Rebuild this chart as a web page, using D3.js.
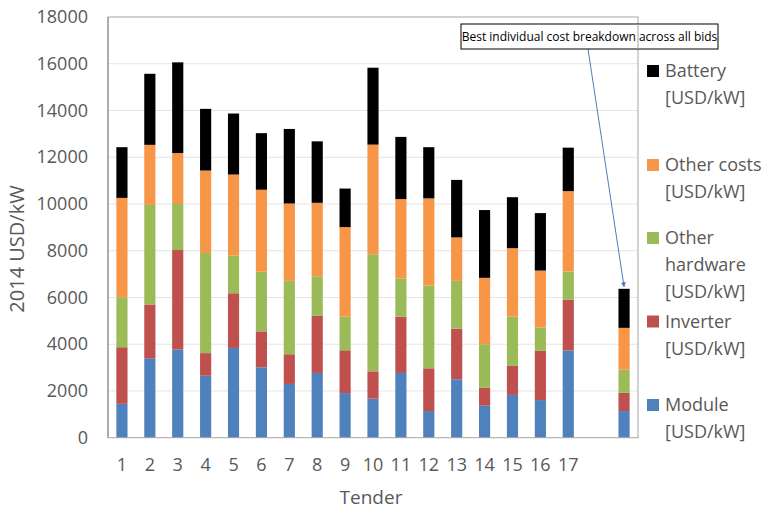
<!DOCTYPE html>
<html><head><meta charset="utf-8">
<script src="https://cdn.jsdelivr.net/npm/d3@7"></script>
<style>body{margin:0;background:#fff}svg{display:block}text{font-family:"Open Sans",sans-serif}</style>
</head><body><svg id="c" width="766" height="511"></svg>
<script>
const categories = ["1","2","3","4","5","6","7","8","9","10","11","12","13","14","15","16","17","gap","best"];
const tickLabels = ["1","2","3","4","5","6","7","8","9","10","11","12","13","14","15","16","17","",""];
const module_ = [1450,3400,3770,2650,3840,3010,2300,2770,1910,1670,2770,1140,2500,1370,1830,1610,3730,0,1140];
const inverter = [2420,2300,4260,970,2340,1540,1270,2440,1830,1170,2410,1830,2160,760,1240,2110,2170,0,780];
const otherHardware = [2140,4260,1970,4280,1610,2550,3140,1700,1440,5010,1630,3540,2050,1870,2110,1000,1210,0,1000];
const otherCosts = [4250,2570,2180,3530,3470,3510,3310,3140,3830,4690,3400,3730,1860,2840,2930,2430,3440,0,1780];
const battery = [2170,3040,3880,2640,2610,2420,3190,2630,1650,3290,2660,2190,2460,2900,2180,2460,1860,0,1670];
const seriesNames = ["Module","Inverter","Other hardware","Other costs","Battery"];
const legendLines = {"Battery":["Battery","[USD/kW]"],"Other costs":["Other costs","[USD/kW]"],"Other hardware":["Other","hardware","[USD/kW]"],"Inverter":["Inverter","[USD/kW]"],"Module":["Module","[USD/kW]"]};
const yTicks = [0,2000,4000,6000,8000,10000,12000,14000,16000,18000];
const annotation = "Best individual cost breakdown across all bids";
const colors = {"Module":"#4f81bd","Inverter":"#c0504d","Other hardware":"#9bbb59","Other costs":"#f79646","Battery":"#000000"};

const seriesData = {"Module":module_,"Inverter":inverter,"Other hardware":otherHardware,"Other costs":otherCosts,"Battery":battery};
const rows = categories.map((c,i)=>{const r={cat:c}; seriesNames.forEach(s=>r[s]=seriesData[s][i]); return r;});

const svg = d3.select("#c");
const L=108,R=638,T=17,B=437.7;
const x = d3.scaleBand().domain(categories).range([L,R]).padding(0);
const y = d3.scaleLinear().domain([0,18000]).range([B,T]);
const gray="#595959";

// gridlines
svg.append("g").selectAll("line").data(yTicks.filter(t=>t>0&&t<18000)).join("line")
  .attr("x1",L).attr("x2",R).attr("y1",d=>y(d)).attr("y2",d=>y(d))
  .attr("stroke","#e4e4e4").attr("stroke-width",1);

// bars
const stack = d3.stack().keys(seriesNames)(rows);
const barW = x.bandwidth()*0.4;
svg.append("g").selectAll("g").data(stack).join("g").attr("fill",d=>colors[d.key])
  .selectAll("rect").data(d=>d.filter(p=>p[1]>p[0])).join("rect")
  .attr("x",d=>x(d.data.cat)+(x.bandwidth()-barW)/2).attr("width",barW)
  .attr("y",d=>y(d[1])).attr("height",d=>y(d[0])-y(d[1]));

// frame
svg.append("rect").attr("x",L).attr("y",T).attr("width",R-L).attr("height",B-T)
  .attr("fill","none").attr("stroke","#a6a6a6").attr("stroke-width",1);
svg.append("line").attr("x1",L).attr("x2",L).attr("y1",T).attr("y2",B).attr("stroke","#868686");

// y axis
const ya = svg.append("g").attr("transform",`translate(${L},0)`)
  .call(d3.axisLeft(y).tickValues(yTicks).tickSize(0).tickPadding(20).tickFormat(d3.format("d")));
ya.select(".domain").remove();
ya.selectAll("text").attr("font-family","Open Sans").attr("font-size",18).attr("fill",gray);

// x axis
const xa = svg.append("g").attr("transform",`translate(0,${B})`)
  .call(d3.axisBottom(x).tickSize(0).tickPadding(21).tickFormat((d,i)=>tickLabels[i]));
xa.select(".domain").remove();
xa.selectAll("text").attr("font-family","Open Sans").attr("font-size",18).attr("fill",gray);

// titles
svg.append("text").attr("transform","translate(24,249) rotate(-90)").attr("text-anchor","middle")
  .attr("font-size",20).attr("fill",gray).text("2014 USD/kW");
svg.append("text").attr("x",371).attr("y",497).attr("dy","0.35em").attr("text-anchor","middle")
  .attr("font-size",19).attr("fill",gray).text("Tender");

// legend
const legendY = {"Battery":71,"Other costs":165,"Other hardware":238,"Inverter":321.5,"Module":405};
const lg = svg.append("g");
["Battery","Other costs","Other hardware","Inverter","Module"].forEach(s=>{
  const cy = legendY[s];
  lg.append("rect").attr("x",647).attr("y",cy-6).attr("width",12).attr("height",12).attr("fill",colors[s]);
  legendLines[s].forEach((t,j)=>{
    lg.append("text").attr("x",665).attr("y",cy+j*27).attr("dy","0.35em")
      .attr("font-size",18).attr("fill",gray).text(t);
  });
});

// annotation
const best = rows[rows.length-1];
const bestTop = seriesNames.reduce((a,s)=>a+best[s],0);
const ax = x("best")+x.bandwidth()/2;
svg.append("defs").append("marker").attr("id","ah").attr("viewBox","0 0 10 10").attr("refX",9).attr("refY",5)
  .attr("markerWidth",5).attr("markerHeight",5).attr("orient","auto")
  .append("path").attr("d","M0,0L10,5L0,10z").attr("fill","#4a7ebb");
svg.append("line").attr("x1",588).attr("y1",49).attr("x2",ax).attr("y2",y(bestTop)-2)
  .attr("stroke","#4a7ebb").attr("stroke-width",1).attr("marker-end","url(#ah)");
svg.append("rect").attr("x",461).attr("y",24).attr("width",257).attr("height",25)
  .attr("fill","#fff").attr("stroke","#000").attr("stroke-width",1);
svg.append("line").attr("x1",R).attr("x2",R).attr("y1",24).attr("y2",49).attr("stroke","#a6a6a6");
svg.append("text").attr("x",589.5).attr("y",36.5).attr("dy","0.35em").attr("text-anchor","middle")
  .attr("font-size",12).attr("fill","#000").text(annotation);
</script></body></html>
